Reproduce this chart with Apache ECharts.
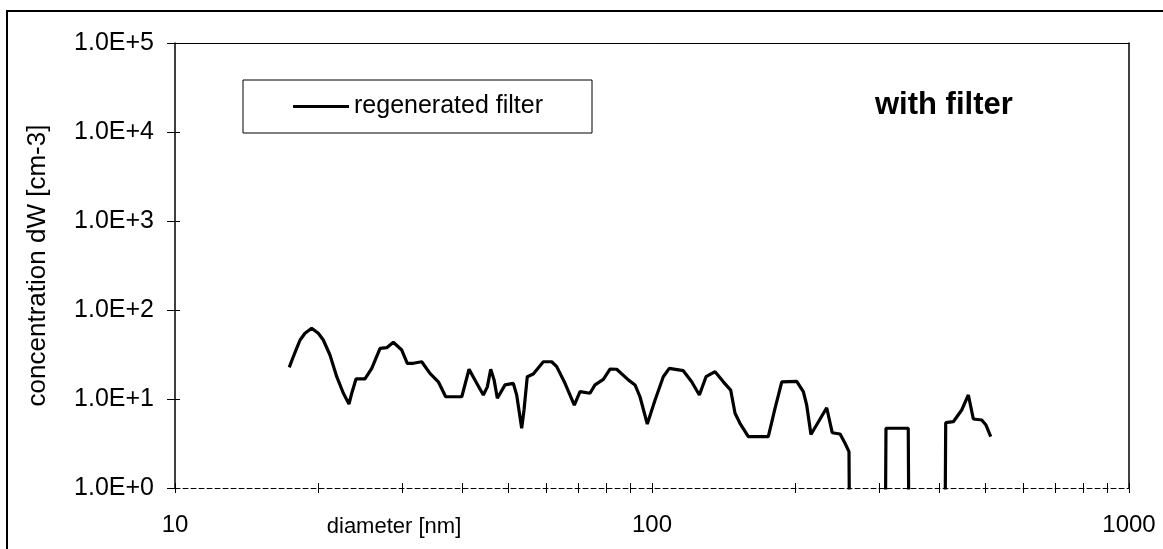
<!DOCTYPE html>
<html><head><meta charset="utf-8">
<script src="https://cdn.jsdelivr.net/npm/echarts@6/dist/echarts.min.js"></script>
<style>html,body{margin:0;padding:0;background:#fff}#c{width:1163px;height:549px}</style>
</head><body><div id="c"></div>
<script>
// ---- data ----
// diameter [nm]
const diameters = [
  17.36, 17.65, 17.99, 18.29, 18.73, 19.34, 19.97, 20.46, 21.13, 21.83,
  22.54, 23.16, 23.47, 23.96, 25.02, 25.85, 26.91, 27.79, 28.69, 29.88,
  30.69, 31.60, 32.90, 34.24, 35.65, 36.94, 39.92, 41.35, 42.91, 44.30,
  45.16, 45.91, 46.66, 47.40, 49.19, 51.20, 52.04, 53.31, 53.91, 54.77,
  56.38, 59.18, 61.62, 63.13, 65.71, 68.73, 70.65, 74.13, 75.94, 79.06,
  81.65, 84.33, 89.20, 92.13, 94.37, 97.75, 101.5, 105.6, 108.7, 116.3,
  121.1, 125.7, 129.8, 135.6, 141.1, 146.2, 149.3, 152.9, 159.2, 175.3,
  181.1, 187.1, 201.1, 207.6, 211.0, 215.4, 232.4, 238.7, 247.9, 253.9,
  258.8, 261.3, 306.5, 309.4, 344.5, 347.9, 408.8, 412.8, 428.2, 446.0,
  460.5, 471.7, 491.2, 501.4, 513.0
];
// concentration dW [cm-3]; 0.001 marks channels that fall below the axis minimum (drawn as drops to the axis)
const concentrations = [
  22.7, 28.7, 37.1, 46.0, 54.7, 62.3, 54.7, 46.0, 31.2, 17.8,
  11.6, 8.79, 11.6, 16.8, 16.8, 22.1, 37.1, 37.7, 43.4, 35.5,
  25.2, 25.2, 26.2, 19.4, 15.6, 10.6, 10.6, 21.6, 15.0, 11.1,
  13.7, 21.6, 16.4, 10.2, 14.4, 15.0, 11.1, 4.69, 7.52, 17.8,
  19.1, 26.2, 26.2, 23.1, 15.0, 8.56, 12.1, 11.6, 14.4, 16.6,
  21.7, 21.6, 16.4, 14.4, 10.6, 5.24, 9.74, 17.8, 22.1, 20.8,
  15.6, 11.1, 17.8, 20.3, 15.6, 12.6, 6.91, 5.33, 3.77, 3.77,
  7.86, 15.6, 15.8, 12.1, 8.56, 3.99, 7.98, 4.18, 4.04, 3.18,
  2.56, 0.001, 0.001, 4.69, 4.69, 0.001, 0.001, 5.42, 5.56, 7.52,
  11.1, 5.96, 5.81, 5.10, 3.77
];
const xTickValues = [10,20,30,40,50,60,70,80,90,100,200,300,400,500,600,700,800,900,1000];
const xLabelValues = [10, 100, 1000];
const yTickValues = [1, 10, 100, 1000, 10000, 100000];
const seriesName = 'regenerated filter';
const titleText = 'with filter';
const xAxisName = 'diameter [nm]';
const yAxisName = 'concentration dW [cm-3]';

// ---- chart ----
const FONT = '"Liberation Sans", Arial, sans-serif';
const chart = echarts.init(document.getElementById('c'), null, {renderer: 'canvas'});
const pairs = diameters.map((d, i) => [d, concentrations[i]]);
const yFmt = v => '1.0E+' + Math.round(Math.log10(v));
const xFmt = v => String(Math.round(v));
const noSplit = {show: false};

const option = {
  animation: false,
  backgroundColor: '#fff',
  textStyle: {fontFamily: FONT},
  grid: {left: 175, right: 34, top: 43, bottom: 61, containLabel: false, outerBoundsMode: 'none'},
  title: {
    text: titleText, left: 870, top: 85,
    textStyle: {fontFamily: FONT, fontSize: 31, fontWeight: 'bold', color: '#000'}
  },
  legend: {
    data: [seriesName], left: 243, top: 80,
    borderColor: '#000', borderWidth: 1, padding: [14, 49, 14, 50],
    icon: 'rect', itemWidth: 56, itemHeight: 3,
    textStyle: {fontFamily: FONT, fontSize: 25, color: '#000'}
  },
  xAxis: [
    {
      type: 'log', logBase: 10, min: 10, max: 1000, position: 'bottom',
      axisLine: {show: true, lineStyle: {color: '#000', width: 1, type: [5, 3]}},
      axisTick: {show: true, customValues: xTickValues, length: 5, inside: false, lineStyle: {color: '#000'}},
      axisLabel: {customValues: xLabelValues, formatter: xFmt, fontFamily: FONT, fontSize: 24, color: '#000', margin: 25},
      splitLine: noSplit, minorTick: {show: false},
      name: xAxisName, nameLocation: 'middle', nameGap: 28, nameMoveOverlap: false,
      nameTextStyle: {fontFamily: FONT, fontSize: 22, color: '#000', padding: [0, 516, 0, 0]}
    },
    {
      type: 'log', logBase: 10, min: 10, max: 1000, position: 'bottom',
      axisLine: {show: false},
      axisTick: {show: true, customValues: xTickValues, length: 5, inside: true, lineStyle: {color: '#000'}},
      axisLabel: {show: false}, splitLine: noSplit
    },
    {
      type: 'log', logBase: 10, min: 10, max: 1000, position: 'top',
      axisLine: {show: true, lineStyle: {color: '#000', width: 1}},
      axisTick: {show: false}, axisLabel: {show: false}, splitLine: noSplit
    }
  ],
  yAxis: [
    {
      type: 'log', logBase: 10, min: 1, max: 100000, position: 'left',
      axisLine: {show: true, lineStyle: {color: '#000', width: 1.5}},
      axisTick: {show: true, customValues: yTickValues, length: 8, inside: false, lineStyle: {color: '#000'}},
      axisLabel: {customValues: yTickValues, formatter: yFmt, fontFamily: FONT, fontSize: 25, color: '#000', margin: 21},
      splitLine: noSplit, minorTick: {show: false},
      name: yAxisName, nameLocation: 'middle', nameGap: 124, nameRotate: 90, nameMoveOverlap: false,
      nameTextStyle: {fontFamily: FONT, fontSize: 26, color: '#000'}
    },
    {
      type: 'log', logBase: 10, min: 1, max: 100000, position: 'left',
      axisLine: {show: false},
      axisTick: {show: true, customValues: yTickValues, length: 5, inside: true, lineStyle: {color: '#000'}},
      axisLabel: {show: false}, splitLine: noSplit
    },
    {
      type: 'log', logBase: 10, min: 1, max: 100000, position: 'right',
      axisLine: {show: true, lineStyle: {color: '#000', width: 1.5}},
      axisTick: {show: false}, axisLabel: {show: false}, splitLine: noSplit
    }
  ],
  series: [{
    name: seriesName, type: 'line', xAxisIndex: 0, yAxisIndex: 0,
    data: pairs, showSymbol: false, symbol: 'none', clip: true,
    lineStyle: {color: '#000', width: 3.2}, itemStyle: {color: '#000'}
  }],
  graphic: [{
    type: 'rect', silent: true, z: 100,
    shape: {x: 7, y: 11, width: 1170, height: 560},
    style: {fill: 'none', stroke: '#000', lineWidth: 2}
  }]
};
chart.setOption(option);
</script>
</body></html>
